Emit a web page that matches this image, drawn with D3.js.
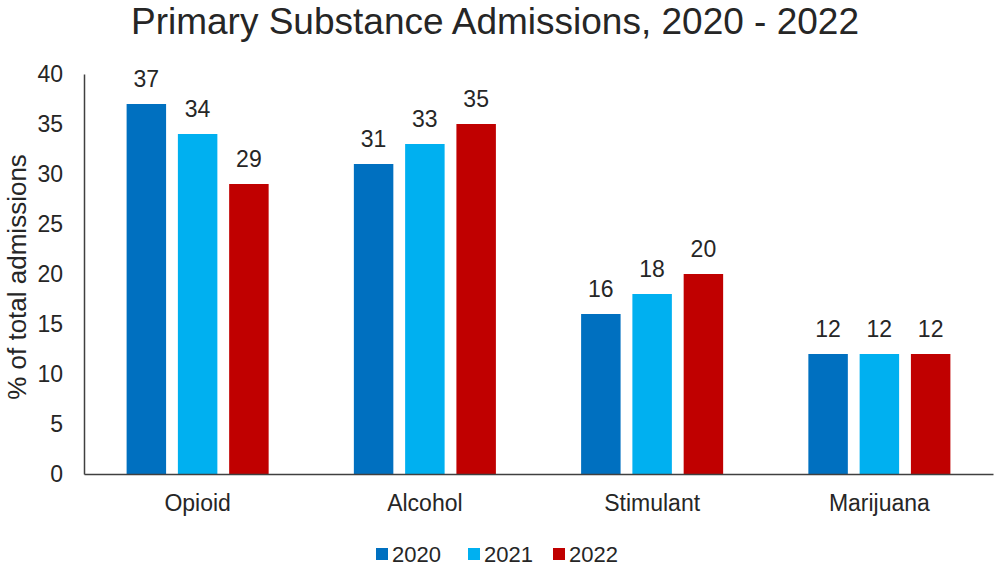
<!DOCTYPE html>
<html>
<head>
<meta charset="utf-8">
<script src="https://cdn.jsdelivr.net/npm/d3@7"></script>
<style>
  body { margin: 0; background: #fff; }
  text { font-family: "Liberation Sans", Arial, sans-serif; fill: #262626; }
</style>
</head>
<body>
<div id="chart"></div>
<script>
// data
var categories = ["Opioid", "Alcohol", "Stimulant", "Marijuana"];
var years = ["2020", "2021", "2022"];
var values2020 = [37, 31, 16, 12];
var values2021 = [34, 33, 18, 12];
var values2022 = [29, 35, 20, 12];
var yTicks = [0, 5, 10, 15, 20, 25, 30, 35, 40];
var colors = ["#0070C0", "#00B0F0", "#C00000"];

var series = [values2020, values2021, values2022];

var W = 997, H = 567;
var margin = { top: 74, right: 4, bottom: 93, left: 84 },
    width = W - margin.left - margin.right,
    height = H - margin.top - margin.bottom;

var svg = d3.select("#chart").append("svg")
    .attr("width", W)
    .attr("height", H);

// title
svg.append("text")
    .attr("x", 495)
    .attr("y", 34)
    .attr("text-anchor", "middle")
    .style("font-size", "37px")
    .text("Primary Substance Admissions, 2020 - 2022");

var g = svg.append("g")
    .attr("transform", "translate(" + margin.left + "," + margin.top + ")");

var x0 = d3.scaleBand()
    .domain(categories)
    .range([0, width])
    .paddingInner(0.375)
    .paddingOuter(0.1875);

var x1 = d3.scaleBand()
    .domain(years)
    .range([0, x0.bandwidth()])
    .paddingInner(0.23)
    .paddingOuter(0);

var y = d3.scaleLinear()
    .domain([0, 40])
    .range([height, 0]);

// bars
categories.forEach(function (cat, i) {
    var grp = g.append("g")
        .attr("transform", "translate(" + x0(cat) + ",0)");
    years.forEach(function (yr, j) {
        var v = series[j][i];
        grp.append("rect")
            .attr("x", x1(yr))
            .attr("y", y(v))
            .attr("width", x1.bandwidth())
            .attr("height", height - y(v))
            .attr("fill", colors[j]);
        grp.append("text")
            .attr("x", x1(yr) + x1.bandwidth() / 2)
            .attr("y", y(v) - 17)
            .attr("text-anchor", "middle")
            .style("font-size", "23px")
            .text(v);
    });
});

// y axis
var yAxis = g.append("g")
    .call(d3.axisLeft(y).tickValues(yTicks).tickSize(0).tickPadding(21));
yAxis.select(".domain").attr("stroke", "#404040").attr("stroke-width", 1.5);
yAxis.selectAll("text")
    .style("font-size", "23px")
    .style("font-family", "Liberation Sans, Arial, sans-serif")
    .attr("fill", "#262626");

// x axis
var xAxis = g.append("g")
    .attr("transform", "translate(0," + height + ")")
    .call(d3.axisBottom(x0).tickSize(0).tickPadding(21));
xAxis.select(".domain").attr("stroke", "#404040").attr("stroke-width", 1.5);
xAxis.selectAll("text")
    .style("font-size", "23px")
    .style("font-family", "Liberation Sans, Arial, sans-serif")
    .attr("fill", "#262626");

// y axis title
svg.append("text")
    .attr("transform", "translate(26,277) rotate(-90)")
    .attr("text-anchor", "middle")
    .style("font-size", "26px")
    .text("% of total admissions");

// legend
var legendX = [376, 468, 553];
var legend = svg.append("g");
years.forEach(function (yr, j) {
    legend.append("rect")
        .attr("x", legendX[j])
        .attr("y", 548)
        .attr("width", 12)
        .attr("height", 12)
        .attr("fill", colors[j]);
    legend.append("text")
        .attr("x", legendX[j] + 16)
        .attr("y", 562)
        .style("font-size", "22px")
        .text(yr);
});
</script>
</body>
</html>
